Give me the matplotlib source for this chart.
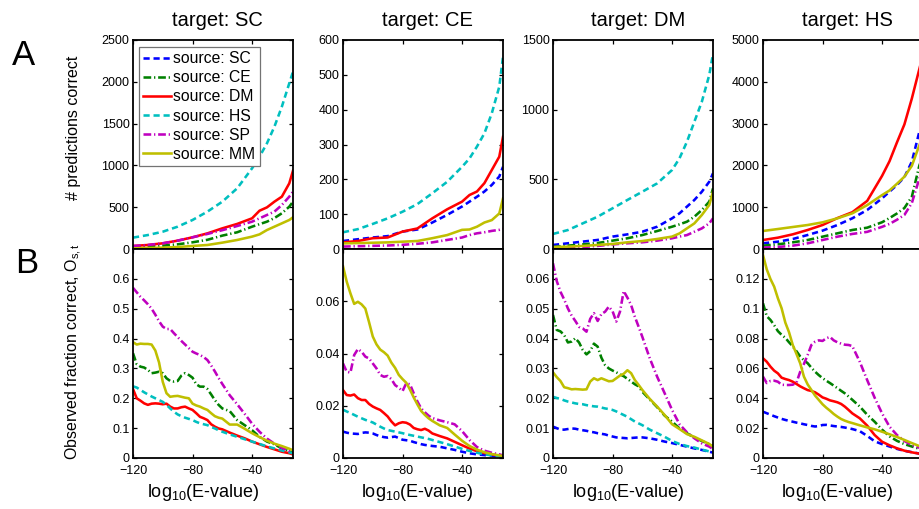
import matplotlib
matplotlib.use('Agg')
import matplotlib.pyplot as plt
from matplotlib.lines import Line2D
from matplotlib.ticker import FormatStrFormatter

plt.rcParams['font.family'] = ['Liberation Sans', 'DejaVu Sans']
plt.rcParams['mathtext.fontset'] = 'custom'
plt.rcParams['mathtext.rm'] = 'Liberation Sans'
plt.rcParams['mathtext.it'] = 'Liberation Sans:italic'
plt.rcParams['mathtext.bf'] = 'Liberation Sans:bold'

# ---------------- data ----------------
targets = ['SC', 'CE', 'DM', 'HS']
sources = ['SC', 'CE', 'DM', 'HS', 'SP', 'MM']

x_top = [-120, -110, -100, -90, -80, -70, -60, -50, -40, -35, -30, -25, -20, -15, -12.5]
x_bot = [-120, -117.5, -115, -112.5, -110, -107.5, -105, -102.5, -100, -97.5, -95, -92.5,
         -90, -87.5, -85, -82.5, -80, -77.5, -75, -72.5, -70, -67.5, -65, -62.5, -60,
         -55, -50, -45, -40, -35, -30, -25, -20, -15, -12.5]

# A: number of predictions correct (target_source)
n_SC_CE = [20, 28, 40, 56, 80, 110, 160, 200, 267, 297, 327, 370, 427, 506, 566]
n_SC_DM = [36, 48, 68, 100, 140, 187, 247, 300, 367, 458, 498, 566, 626, 785, 937]
n_SC_HS = [136, 167, 207, 267, 347, 447, 566, 726, 965, 1104, 1264, 1463, 1702, 1982, 2121]
n_SC_SP = [36, 48, 68, 100, 140, 180, 225, 275, 327, 367, 407, 447, 526, 626, 686]
n_SC_MM = [8, 12, 16, 24, 36, 48, 76, 108, 148, 175, 227, 267, 307, 347, 379]

n_CE_SC = [23, 28, 33, 37, 50, 56, 76, 98, 122, 136, 150, 165, 184, 208, 236]
n_CE_DM = [19, 23, 31, 33, 50, 59, 88, 114, 136, 155, 165, 189, 227, 265, 322]
n_CE_HS = [48, 57, 72, 88, 107, 129, 160, 193, 236, 260, 294, 332, 390, 466, 552]
n_CE_SP = [7, 8, 9, 10, 12, 15, 19, 26, 33, 40, 45, 48, 52, 55, 58]
n_CE_MM = [16, 17, 18, 19, 21, 23, 31, 40, 55, 56, 64, 76, 83, 102, 145]

n_DM_SC = [29, 41, 53, 65, 89, 105, 124, 160, 220, 256, 304, 352, 411, 483, 543]
n_DM_CE = [14, 24, 33, 43, 60, 77, 100, 129, 160, 177, 196, 232, 280, 340, 435]
n_DM_HS = [108, 136, 184, 232, 292, 352, 411, 471, 567, 651, 770, 914, 1057, 1249, 1400]
n_DM_SP = [5, 10, 14, 22, 33, 41, 48, 60, 77, 89, 100, 124, 148, 184, 220]
n_DM_MM = [14, 17, 22, 29, 36, 48, 57, 72, 89, 112, 148, 184, 244, 316, 411]

n_HS_SC = [136, 175, 239, 335, 439, 574, 734, 933, 1212, 1372, 1531, 1720, 2089, 2800, 3100]
n_HS_CE = [80, 112, 159, 215, 295, 375, 455, 510, 640, 740, 850, 980, 1250, 1990, 2250]
n_HS_DM = [215, 271, 351, 455, 574, 740, 880, 1150, 1750, 2100, 2550, 2980, 3600, 4300, 4650]
n_HS_SP = [32, 48, 80, 136, 215, 295, 360, 410, 530, 600, 700, 815, 1100, 1680, 1950]
n_HS_MM = [431, 478, 526, 574, 638, 734, 853, 1050, 1290, 1400, 1560, 1730, 1990, 2480, 2700]

# B: observed fraction correct (target_source)
f_SC_CE = [.351, .314, .306, .303, .295, .284, .286, .289, .284, .267, .258, .256, .258, .276, .284,
           .278, .269, .247, .239, .239, .231, .213, .194, .178, .166, .157, .127, .110, .093, .071,
           .055, .046, .032, .023, .017]
f_SC_DM = [.231, .200, .192, .183, .178, .182, .183, .182, .180, .182, .172, .166, .166, .170, .172,
           .166, .161, .150, .138, .133, .127, .113, .105, .099, .096, .085, .075, .066, .055, .046,
           .037, .029, .021, .016, .012]
f_SC_HS = [.240, .236, .228, .220, .213, .206, .200, .194, .188, .178, .166, .155, .146, .140, .135,
           .131, .127, .121, .116, .113, .110, .104, .099, .093, .088, .079, .071, .063, .055, .047,
           .039, .032, .025, .019, .016]
f_SC_SP = [.570, .555, .540, .528, .515, .500, .480, .458, .440, .432, .432, .418, .405, .392, .380,
           .368, .356, .350, .345, .338, .328, .310, .290, .268, .248, .210, .180, .148, .115, .088,
           .065, .048, .034, .024, .019]
f_SC_MM = [.388, .380, .383, .382, .382, .380, .360, .320, .255, .217, .205, .207, .208, .205, .202,
           .200, .182, .176, .172, .166, .161, .150, .140, .135, .132, .112, .112, .098, .083, .070,
           .058, .048, .040, .031, .026]

f_CE_SC = [.0101, .0097, .0094, .0093, .0092, .0096, .0098, .0097, .0094, .0088, .0083, .0080, .0078,
           .0080, .0082, .0076, .0070, .0068, .0066, .0061, .0057, .0053, .0050, .0048, .0046, .0043,
           .0037, .0031, .0024, .0018, .0014, .0011, .0009, .0006, .0005]
f_CE_DM = [.0260, .0241, .0239, .0243, .0229, .0222, .0222, .0207, .0197, .0190, .0184, .0172, .0159,
           .0140, .0125, .0133, .0137, .0135, .0128, .0115, .0110, .0107, .0112, .0105, .0094, .0084,
           .0075, .0062, .0049, .0036, .0026, .0019, .0013, .0009, .0007]
f_CE_HS = [.0185, .0178, .0172, .0165, .0158, .0152, .0146, .0141, .0136, .0128, .0120, .0113, .0107,
           .0104, .0101, .0098, .0095, .0091, .0088, .0085, .0082, .0079, .0076, .0073, .0069, .0061,
           .0053, .0044, .0035, .0027, .0020, .0014, .0010, .0008, .0006]
f_CE_SP = [.0362, .0330, .0327, .0394, .0417, .0407, .0388, .0381, .0362, .0343, .0318, .0311, .0314,
           .0302, .0279, .0269, .0256, .0286, .0282, .0248, .0216, .0190, .0175, .0162, .0153, .0144,
           .0137, .0129, .0103, .0069, .0042, .0028, .0020, .0014, .0010]
f_CE_MM = [.0734, .0675, .0630, .0590, .0598, .0588, .0572, .0520, .0465, .0435, .0415, .0405, .0392,
           .0365, .0345, .0318, .0302, .0288, .0262, .0232, .0205, .0180, .0165, .0152, .0142, .0125,
           .0115, .0090, .0066, .0046, .0032, .0022, .0015, .0010, .0008]

f_DM_SC = [.0105, .0100, .0095, .0095, .0097, .0099, .0098, .0095, .0093, .0091, .0088, .0086, .0083,
           .0081, .0079, .0075, .0072, .0069, .0068, .0067, .0066, .0067, .0068, .0069, .0069, .0066,
           .0061, .0055, .0050, .0044, .0038, .0032, .0027, .0021, .0018]
f_DM_CE = [.0479, .0429, .0424, .0412, .0387, .0390, .0401, .0387, .0362, .0347, .0358, .0383, .0373,
           .0336, .0311, .0300, .0293, .0287, .0280, .0274, .0265, .0256, .0247, .0240, .0222, .0196,
           .0170, .0142, .0122, .0099, .0083, .0068, .0057, .0046, .0040]
f_DM_HS = [.0205, .0201, .0198, .0193, .0189, .0186, .0183, .0181, .0180, .0177, .0175, .0173, .0172,
           .0169, .0166, .0164, .0161, .0156, .0150, .0144, .0138, .0130, .0122, .0116, .0110, .0095,
           .0083, .0071, .0057, .0047, .0040, .0035, .0028, .0022, .0019]
f_DM_SP = [.0652, .0593, .0557, .0531, .0501, .0477, .0459, .0439, .0434, .0423, .0466, .0485, .0459,
           .0482, .0490, .0507, .0492, .0457, .0490, .0559, .0537, .0512, .0473, .0440, .0406, .0334,
           .0272, .0217, .0161, .0113, .0086, .0066, .0049, .0038, .0030]
f_DM_MM = [.0287, .0271, .0258, .0237, .0234, .0230, .0231, .0230, .0229, .0230, .0256, .0267, .0261,
           .0267, .0262, .0257, .0258, .0267, .0276, .0282, .0294, .0284, .0261, .0245, .0228, .0198,
           .0172, .0144, .0113, .0097, .0080, .0071, .0059, .0047, .0038]

f_HS_SC = [.0310, .0300, .0290, .0280, .0271, .0262, .0255, .0249, .0243, .0237, .0232, .0226, .0221,
           .0215, .0211, .0214, .0221, .0222, .0218, .0214, .0211, .0208, .0204, .0199, .0194, .0180,
           .0148, .0112, .0093, .0077, .0061, .0048, .0039, .0030, .0027]
f_HS_CE = [.1036, .0950, .0925, .0890, .0850, .0825, .0805, .0775, .0748, .0715, .0680, .0655, .0635,
           .0605, .0578, .0555, .0535, .0518, .0502, .0485, .0468, .0450, .0433, .0412, .0390, .0345,
           .0290, .0243, .0190, .0145, .0115, .0093, .0077, .0062, .0056]
f_HS_DM = [.0668, .0645, .0612, .0585, .0567, .0538, .0529, .0522, .0511, .0496, .0480, .0467, .0455,
           .0449, .0440, .0424, .0406, .0397, .0386, .0380, .0373, .0362, .0344, .0322, .0299, .0266,
           .0217, .0154, .0109, .0085, .0065, .0049, .0038, .0029, .0025]
f_HS_SP = [.0545, .0502, .0516, .0518, .0511, .0491, .0489, .0489, .0491, .0505, .0578, .0630, .0690,
           .0757, .0779, .0788, .0784, .0802, .0811, .0788, .0775, .0766, .0759, .0757, .0750, .0645,
           .0522, .0404, .0299, .0210, .0154, .0114, .0087, .0069, .0060]
f_HS_MM = [.1360, .1264, .1199, .1148, .1070, .1003, .0907, .0842, .0757, .0697, .0634, .0545, .0493,
           .0456, .0418, .0389, .0360, .0337, .0317, .0295, .0277, .0261, .0250, .0241, .0234, .0219,
           .0205, .0192, .0176, .0159, .0141, .0121, .0100, .0080, .0071]

ylim_top = [2500, 600, 1500, 5000]
yticks_top = [[0, 500, 1000, 1500, 2000, 2500], [0, 100, 200, 300, 400, 500, 600],
              [0, 500, 1000, 1500], [0, 1000, 2000, 3000, 4000, 5000]]
ylim_bot = [0.7, 0.08, 0.07, 0.14]
yticks_bot = [[0, 0.1, 0.2, 0.3, 0.4, 0.5, 0.6], [0, 0.02, 0.04, 0.06],
              [0, 0.01, 0.02, 0.03, 0.04, 0.05, 0.06], [0, 0.02, 0.04, 0.06, 0.08, 0.1, 0.12]]
xticks = [-120, -80, -40]

# ---------------- style ----------------
colors = {'SC': '#0000ff', 'CE': '#008000', 'DM': '#ff0000',
          'HS': '#00bfbf', 'SP': '#bf00bf', 'MM': '#bfbf00'}
dash = (0, (2.4, 1.5))
dashdot = (0, (3.0, 1.1, 0.5, 1.1))
styles = {'SC': dash, 'CE': dashdot, 'DM': '-', 'HS': dash, 'SP': dashdot, 'MM': '-'}
LW = 1.85

data = globals()

W, H = 920, 509
fig = plt.figure(figsize=(W / 100, H / 100), dpi=100)
lefts = [133, 343, 553, 763]
aw, ah = 160, 209
xlab_x = [0.44, 0.466, 0.47, 0.466]

for j, t in enumerate(targets):
    l = lefts[j] / W
    axA = fig.add_axes([l, 1 - 249 / H, aw / W, ah / H])
    axB = fig.add_axes([l, 1 - 458 / H, aw / W, ah / H])
    for s in sources:
        if s == t:
            continue
        axA.plot(x_top, data['n_%s_%s' % (t, s)], color=colors[s], ls=styles[s], lw=LW)
        axB.plot(x_bot, data['f_%s_%s' % (t, s)], color=colors[s], ls=styles[s], lw=LW)
    for ax, ylim, yt in ((axA, ylim_top[j], yticks_top[j]), (axB, ylim_bot[j], yticks_bot[j])):
        ax.set_xlim(-120, -12.5)
        ax.set_ylim(0, ylim)
        ax.set_xticks(xticks)
        ax.set_yticks(yt)
        ax.tick_params(direction='in', top=True, right=True, length=3, width=0.9,
                       labelsize=9, pad=2.5, colors='black')
        ax.tick_params(axis='x', pad=5)
        ax.yaxis.set_major_formatter(FormatStrFormatter('%g'))
        for sp in ax.spines.values():
            sp.set_linewidth(1.3)
    axA.set_xticklabels([])
    axA.text(0.53, 1 + (40 - 25.7) / ah, 'target: %s' % t, transform=axA.transAxes,
             ha='center', va='baseline', fontsize=14.5)
    axB.text(xlab_x[j], -(497 - 458) / ah, 'log$_{10}$(E-value)', transform=axB.transAxes,
             ha='center', va='baseline', fontsize=13)
    if j == 0:
        axA.text(-0.372, 0.58, '# predictions correct', transform=axA.transAxes,
                 rotation=90, ha='center', va='center', fontsize=11.5)
        axB.text(-0.372, 0.51, 'Observed fraction correct, O$_{\\mathrm{s,t}}$',
                 transform=axB.transAxes, rotation=90, ha='center', va='center', fontsize=11.5)
        handles = [Line2D([], [], color=colors[s], ls=styles[s], lw=LW) for s in sources]
        leg = axA.legend(handles, ['source: %s' % s for s in sources], loc='upper left',
                         bbox_to_anchor=(0.0375, 0.967), borderaxespad=0, fontsize=11.3,
                         frameon=True, fancybox=False, edgecolor='0.45', framealpha=1,
                         handlelength=1.75, handletextpad=0.15, labelspacing=0.26,
                         borderpad=0.28)
        leg.get_frame().set_linewidth(0.9)

fig.text(12 / W, 1 - 65 / H, 'A', fontsize=25, va='baseline', ha='left')
fig.text(15 / W, 1 - 273 / H, 'B', fontsize=25, va='baseline', ha='left')

fig.savefig('out.png', dpi=100)
